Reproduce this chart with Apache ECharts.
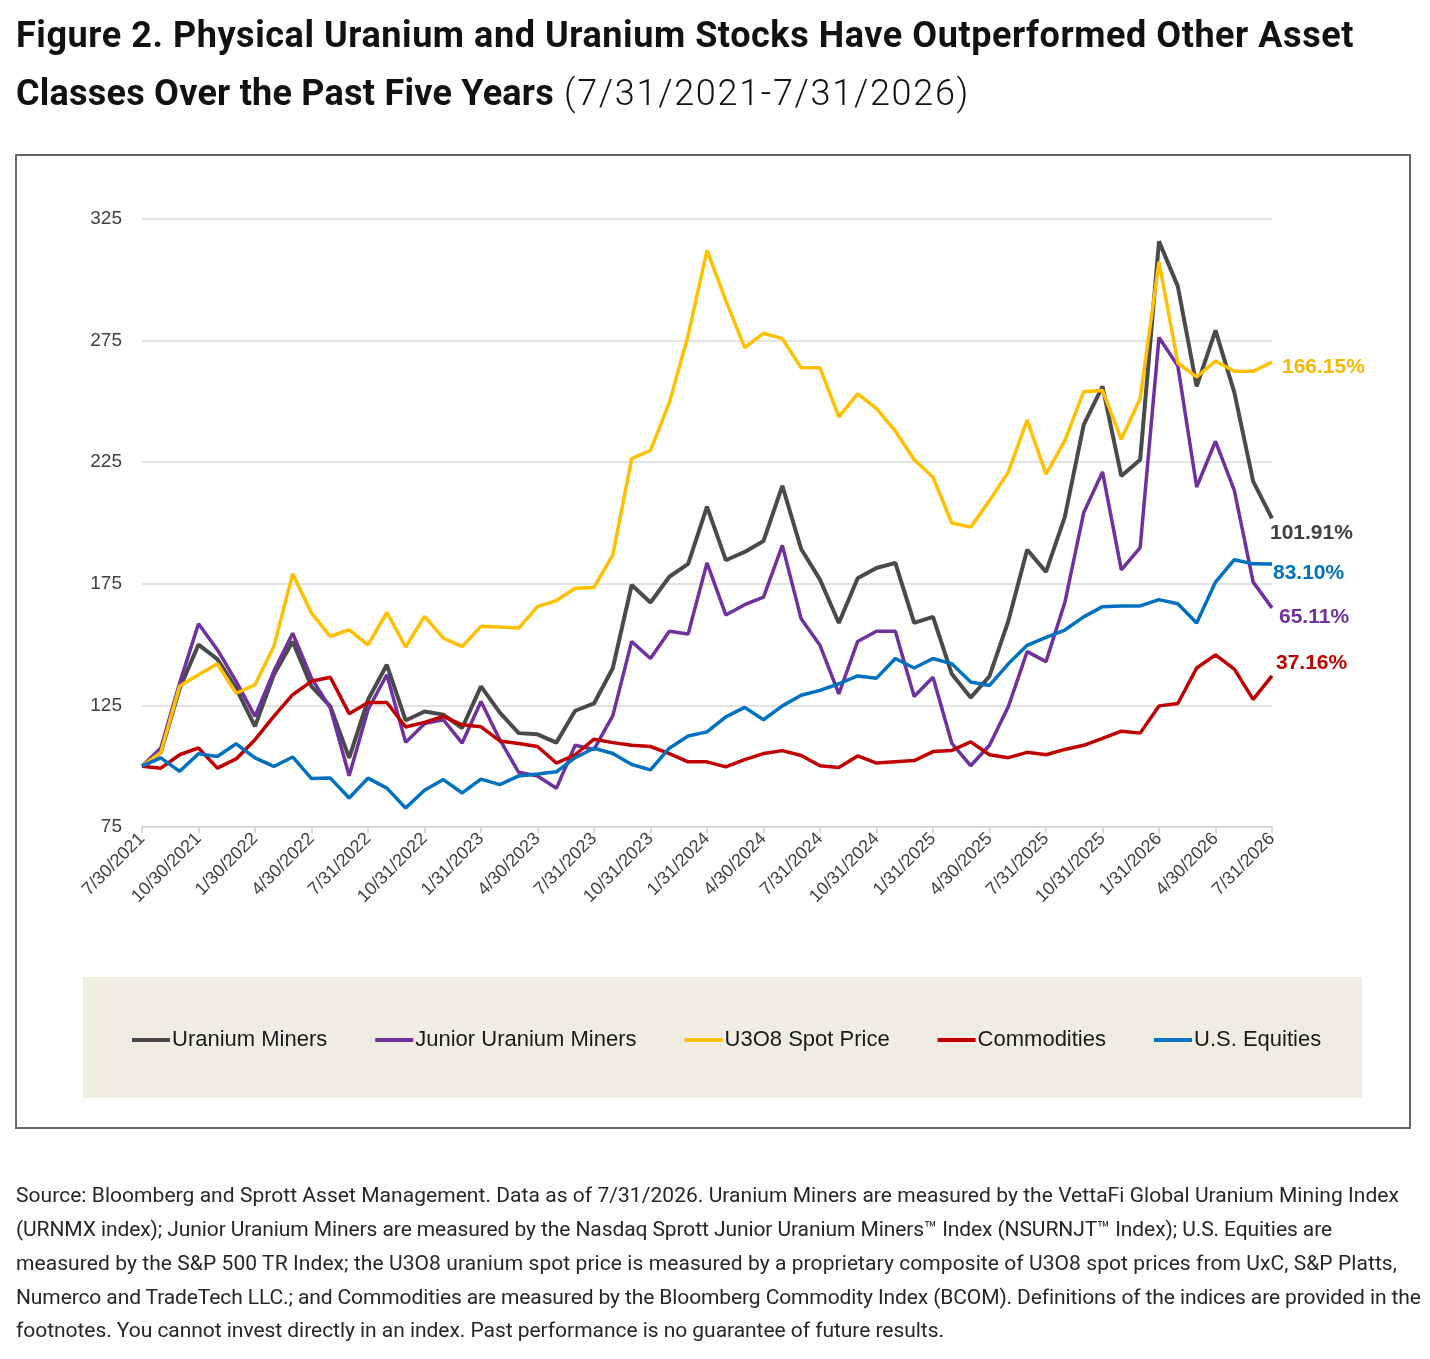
<!DOCTYPE html>
<html>
<head>
<meta charset="utf-8">
<script src="https://cdn.jsdelivr.net/npm/echarts@6/dist/echarts.min.js"></script>
<style>
  html,body{margin:0;padding:0;background:#fff;}
  body{width:1430px;height:1359px;position:relative;overflow:hidden;font-family:Roboto,"Open Sans",sans-serif;}
  #chart{position:absolute;left:0;top:0;width:1430px;height:1359px;}
  .t{position:absolute;white-space:nowrap;color:#111;line-height:1;}
  .tb{font-weight:700;font-size:36px;}
  .tl{font-weight:300;font-size:36px;}
  .fn{position:absolute;left:16px;white-space:nowrap;font-size:21px;color:#262626;font-weight:400;line-height:1;}
</style>
</head>
<body>
<div id="chart"></div>
<div class="t tb" id="t1" style="left:16px;top:17px;" data-w="1338">Figure 2. Physical Uranium and Uranium Stocks Have Outperformed Other Asset</div>
<div class="t tb" id="t2" style="left:16px;top:75px;" data-w="538">Classes Over the Past Five Years</div>
<div class="t tl" id="t3" style="left:564px;top:75px;" data-w="406">(7/31/2021-7/31/2026)</div>
<div class="fn" style="top:1185px;" data-w="1383">Source: Bloomberg and Sprott Asset Management. Data as of 7/31/2026. Uranium Miners are measured by the VettaFi Global Uranium Mining Index</div>
<div class="fn" style="top:1219px;" data-w="1316">(URNMX index); Junior Uranium Miners are measured by the Nasdaq Sprott Junior Uranium Miners™ Index (NSURNJT™ Index); U.S. Equities are</div>
<div class="fn" style="top:1253px;" data-w="1381">measured by the S&amp;P 500 TR Index; the U3O8 uranium spot price is measured by a proprietary composite of U3O8 spot prices from UxC, S&amp;P Platts,</div>
<div class="fn" style="top:1287px;" data-w="1404">Numerco and TradeTech LLC.; and Commodities are measured by the Bloomberg Commodity Index (BCOM). Definitions of the indices are provided in the</div>
<div class="fn" style="top:1320px;" data-w="928">footnotes. You cannot invest directly in an index. Past performance is no guarantee of future results.</div>
<script>
// ---------- DATA ----------
const categories = [
  '7/30/2021','8/31/2021','9/30/2021','10/30/2021','11/30/2021','12/31/2021',
  '1/30/2022','2/28/2022','3/31/2022','4/30/2022','5/31/2022','6/30/2022','7/31/2022','8/31/2022','9/30/2022','10/31/2022','11/30/2022','12/31/2022',
  '1/31/2023','2/28/2023','3/31/2023','4/30/2023','5/31/2023','6/30/2023','7/31/2023','8/31/2023','9/30/2023','10/31/2023','11/30/2023','12/31/2023',
  '1/31/2024','2/29/2024','3/31/2024','4/30/2024','5/31/2024','6/30/2024','7/31/2024','8/31/2024','9/30/2024','10/31/2024','11/30/2024','12/31/2024',
  '1/31/2025','2/28/2025','3/31/2025','4/30/2025','5/31/2025','6/30/2025','7/31/2025','8/31/2025','9/30/2025','10/31/2025','11/30/2025','12/31/2025',
  '1/31/2026','2/28/2026','3/31/2026','4/30/2026','5/31/2026','6/30/2026','7/31/2026'
];
const uraniumMiners = [100,105.7,132,150,144,132,116.4,137.6,151.3,132.8,124.6,103.4,127.3,141.7,118.8,122.5,121.2,115.7,132.8,122,
  113.6,113.1,109.7,122.8,125.8,140.4,174.5,167.3,177.9,183.2,206.7,184.7,188.1,192.6,215.3,189.3,176.7,158.9,177.3,181.5,
  183.6,158.9,161.4,137.9,128.2,137,159.7,189,179.9,202.5,240.3,256.2,219.3,226,315.8,297.3,256.2,279.2,253.7,217.1,201.91];
const juniorMiners = [100,107.5,134.2,158.6,147.9,134.9,120.5,139,154.7,136.2,123.9,96.1,123.2,137.6,109.8,117.5,119.1,109.5,126.6,110.9,
  97.5,96,90.9,108.6,106.9,120.8,151.3,144.3,155.5,154.4,183.6,162.2,166.4,169.5,190.8,160.6,149.7,129.7,151.3,155.5,
  155.5,128.7,136.6,109.4,100.2,108.6,124.5,147.1,143,167.3,204.2,221,180.7,189.9,276.3,264.6,214.8,233.6,213.4,175.7,165.11];
const u3o8Spot = [100,105.7,133,137.6,142.1,130,133.5,149.2,179.1,162.9,153.4,156.1,149.9,163.2,149,161.6,152.7,149.2,157.5,157.2,
  156.8,165.6,168.1,173.2,173.5,186.9,226.5,229.9,249.5,277.2,312.1,291.4,272.1,278,275.8,263.8,263.8,243.6,253.1,247,
  237.8,226,218.8,200,198.3,209.2,221,242.3,220.1,233.9,254,254.5,234.4,251.2,307.4,265.8,260.1,266.6,262.4,262.4,266.15];
const commodities = [100,99.2,104.7,107.5,99.2,103,110.9,120.5,129.4,134.9,136.6,121.6,126.2,126.2,116.1,118,120.5,117,116.2,110.4,
  109.3,108.1,101.3,104.7,111.1,109.7,108.6,108.1,105.2,101.8,101.8,99.7,102.7,105.2,106.4,104.4,100.2,99.5,104.2,101.3,
  101.8,102.3,106,106.5,110,104.7,103.5,105.7,104.7,106.9,108.6,111.4,114.4,113.6,124.8,125.8,140.4,145.8,139.9,127.5,137.16];
const usEquities = [100,103.4,97.9,105.1,104,109.2,103.4,99.9,103.8,94.9,95.1,86.9,95.1,91,82.8,90.1,94.5,89,94.7,92.4,
  96,96.8,97.7,103.5,107.4,105.2,100.7,98.5,107.4,112.4,114.1,120.3,124.2,119.1,124.8,129.2,131.2,133.9,137.1,136.2,
  144.3,140.4,144.3,142.1,134.6,133.2,142.1,149.7,153,156,161.4,165.6,165.9,165.9,168.5,166.8,158.9,175.7,184.9,183.2,183.10];
const seriesNames = ['Uranium Miners','Junior Uranium Miners','U3O8 Spot Price','Commodities','U.S. Equities'];
const endReturns = ['101.91%','65.11%','166.15%','37.16%','83.10%'];
const yTicks = {min:75, max:325, step:50};
// ---------- STYLE ----------
const colors = ['#4a4a4a','#7030a0','#ffc000','#c00000','#0070c0'];
const labelColors = ['#404040','#7030a0','#f7b900','#c00000','#0070c0'];
const labelOffsets = [[-10,15],[-1,9],[2,5],[-4,-13],[-7,9]];
const widths = [4,3.5,3.5,3.5,3.5];
const seriesData = [uraniumMiners, juniorMiners, u3o8Spot, commodities, usEquities];

const chart = echarts.init(document.getElementById('chart'), null, {renderer:'canvas', width:1430, height:1359});
const series = seriesNames.map((n,k)=>({
  name:n, type:'line', data:seriesData[k], symbol:'none', smooth:false,
  lineStyle:{color:colors[k], width:widths[k]}, itemStyle:{color:colors[k]},
  z: 2+k,
  endLabel:{show:true, formatter:endReturns[k], color:labelColors[k], fontFamily:'Liberation Sans, Arial, sans-serif',
    fontWeight:'bold', fontSize:21, offset:labelOffsets[k]},
  emphasis:{disabled:true}, animation:false
}));
chart.setOption({
  animation:false,
  backgroundColor:'transparent',
  graphic:[
    {type:'rect', shape:{x:16,y:155,width:1394,height:973}, style:{fill:'#fff', stroke:'#666', lineWidth:2}, z:-10},
    {type:'rect', shape:{x:83,y:977,width:1279,height:121}, style:{fill:'#f1ece2'}, z:-9}
  ],
  grid:{left:142, right:158, top:219, bottom:532, containLabel:false},
  legend:{
    data:seriesNames, left:132, top:1029, padding:0, icon:'rect', itemWidth:38, itemHeight:4, itemGap:48,
    textStyle:{fontFamily:'Liberation Sans, Arial, sans-serif', fontSize:22, color:'#1a1a1a', padding:[0,0,0,-3]},
    selectedMode:false
  },
  xAxis:{
    type:'category', data:categories, boundaryGap:false,
    axisLine:{lineStyle:{color:'#d9d9d9', width:2}},
    axisTick:{show:true, interval:2, length:6, lineStyle:{color:'#d9d9d9', width:2}},
    axisLabel:{interval:2, rotate:45, fontFamily:'Liberation Sans, Arial, sans-serif', fontSize:18, color:'#404040', margin:9},
    splitLine:{show:false}
  },
  yAxis:{
    type:'value', min:yTicks.min, max:yTicks.max, interval:yTicks.step,
    axisLine:{show:false}, axisTick:{show:false},
    axisLabel:{fontFamily:'Liberation Sans, Arial, sans-serif', fontSize:19, color:'#404040', margin:20},
    splitLine:{lineStyle:{color:'#e3e3e3', width:2}}
  },
  series
});

function fitAll(){
  document.querySelectorAll('[data-w]').forEach(el=>{
    el.style.letterSpacing='0px';
    const w = el.getBoundingClientRect().width;
    const n = el.textContent.length;
    const target = parseFloat(el.dataset.w);
    el.style.letterSpacing = ((target - w)/n) + 'px';
  });
}
fitAll();
if (document.fonts && document.fonts.ready) document.fonts.ready.then(fitAll);
</script>
</body>
</html>
